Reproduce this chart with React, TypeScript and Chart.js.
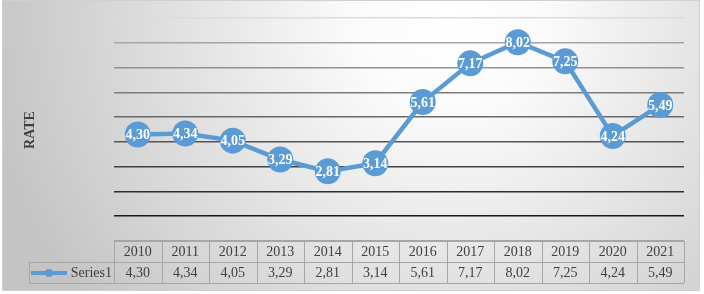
import React, { useEffect, useRef } from 'react';
import { Chart, registerables } from 'chart.js';

Chart.register(...registerables);

const categories = ['2010', '2011', '2012', '2013', '2014', '2015', '2016', '2017', '2018', '2019', '2020', '2021'];
const seriesName = 'Series1';
const rates = [4.3, 4.34, 4.05, 3.29, 2.81, 3.14, 5.61, 7.17, 8.02, 7.25, 4.24, 5.49];
const yMin = 0;
const yMax = 9;
const yStep = 1;
const axisTitle = 'RATE';

const W = 704;
const H = 294;
const SERIF = '"Liberation Serif", "Times New Roman", serif';
const BLUE = '#5b9bd5';
const TEXT = '#404040';
const BORDER = '#a6a6a6';

const fmt = (v: number) => v.toFixed(2).replace('.', ',');

function gridColor(v: number): string {
  if (v === 0) return BORDER;
  if (v >= 9) return '#dcdcdc';
  // darker towards the bottom
  const t = (8 - v) / 7; // 0 at 8, 1 at 1
  const c = Math.round(165 - t * 140);
  return `rgb(${c},${c},${c})`;
}

const backgroundPlugin = {
  id: 'bgPlugin',
  beforeDraw(chart: any) {
    const ctx = chart.ctx;
    ctx.save();
    ctx.fillStyle = '#ffffff';
    ctx.fillRect(0, 0, W, H);
    const g = ctx.createRadialGradient(450, 15, 0, 450, 15, 470);
    g.addColorStop(0, '#ffffff');
    g.addColorStop(0.2, '#fbfbfb');
    g.addColorStop(1, '#c4c4c4');
    ctx.fillStyle = g;
    ctx.fillRect(2, 0, 698, 291);
    ctx.strokeStyle = '#d0d0d0';
    ctx.lineWidth = 1;
    ctx.strokeRect(2.5, 0.5, 697, 290);
    ctx.restore();
  },
};

const labelPlugin = {
  id: 'labelPlugin',
  afterDatasetsDraw(chart: any) {
    const ctx = chart.ctx;
    const meta = chart.getDatasetMeta(0);
    ctx.save();
    ctx.font = `bold 14px ${SERIF}`;
    ctx.fillStyle = '#ffffff';
    ctx.textAlign = 'center';
    ctx.textBaseline = 'middle';
    meta.data.forEach((pt: any, i: number) => {
      ctx.fillText(fmt(rates[i]), pt.x, pt.y + 1);
    });
    ctx.restore();
  },
};

const tablePlugin = {
  id: 'tablePlugin',
  afterDraw(chart: any) {
    const ctx = chart.ctx;
    const xs = chart.scales.x;
    const area = chart.chartArea;
    const n = categories.length;
    const colW = (area.right - area.left) / n;
    const top = area.bottom;
    const rowH = 21;
    const legendLeft = 29;
    ctx.save();
    ctx.strokeStyle = BORDER;
    ctx.lineWidth = 1;
    ctx.beginPath();
    // horizontal lines
    ctx.moveTo(area.left, top + 0.5);
    ctx.lineTo(area.right, top + 0.5);
    ctx.moveTo(legendLeft, top + rowH + 0.5);
    ctx.lineTo(area.right, top + rowH + 0.5);
    ctx.moveTo(legendLeft, top + 2 * rowH + 0.5);
    ctx.lineTo(area.right, top + 2 * rowH + 0.5);
    // vertical lines
    for (let i = 0; i <= n; i++) {
      const cx = Math.round(xs.getPixelForValue(Math.min(i, n - 1)) + (i === n ? colW / 2 : -colW / 2)) + 0.5;
      ctx.moveTo(cx, top);
      ctx.lineTo(cx, top + 2 * rowH);
    }
    ctx.moveTo(legendLeft + 0.5, top + rowH);
    ctx.lineTo(legendLeft + 0.5, top + 2 * rowH);
    ctx.stroke();

    ctx.font = `14px ${SERIF}`;
    ctx.fillStyle = TEXT;
    ctx.textAlign = 'center';
    ctx.textBaseline = 'middle';
    for (let i = 0; i < n; i++) {
      const cx = xs.getPixelForValue(i);
      ctx.fillText(categories[i], cx, top + rowH / 2 + 1);
      ctx.fillText(fmt(rates[i]), cx, top + rowH * 1.5 + 1);
    }
    // legend key
    const ly = top + rowH * 1.5 + 0.5;
    ctx.strokeStyle = BLUE;
    ctx.lineWidth = 4;
    ctx.beginPath();
    ctx.moveTo(31, ly);
    ctx.lineTo(67, ly);
    ctx.stroke();
    ctx.fillStyle = BLUE;
    ctx.beginPath();
    ctx.arc(49, ly, 4, 0, Math.PI * 2);
    ctx.fill();
    ctx.fillStyle = TEXT;
    ctx.textAlign = 'right';
    ctx.fillText(seriesName, area.left - 2, top + rowH * 1.5 + 1);

    // axis title
    ctx.translate(30, 130);
    ctx.rotate(-Math.PI / 2);
    ctx.font = `bold 14px ${SERIF}`;
    ctx.textAlign = 'center';
    ctx.fillText(axisTitle, 0, 0);
    ctx.restore();
  },
};

export default function App() {
  const ref = useRef<HTMLCanvasElement>(null);
  useEffect(() => {
    document.body.style.margin = '0';
    const canvas = ref.current!;
    const chart = new Chart(canvas, {
      type: 'line',
      data: {
        labels: categories,
        datasets: [
          {
            label: seriesName,
            data: rates,
            borderColor: BLUE,
            backgroundColor: BLUE,
            borderWidth: 4.5,
            pointRadius: 13,
            pointHoverRadius: 13,
            pointBackgroundColor: BLUE,
            pointBorderWidth: 0,
            tension: 0,
            clip: false as any,
          },
        ],
      },
      options: {
        responsive: false,
        animation: false,
        events: [],
        layout: { padding: { left: 114, right: 20, top: 18, bottom: 53 } },
        plugins: {
          legend: { display: false },
          tooltip: { enabled: false },
          title: { display: false },
        },
        scales: {
          x: {
            type: 'category',
            display: false,
            offset: true,
          },
          y: {
            min: yMin,
            max: yMax,
            ticks: { display: false, stepSize: yStep },
            border: { display: false },
            grid: {
              drawTicks: false,
              lineWidth: 1.5,
              color: (c: any) => gridColor(c.tick ? c.tick.value : 0),
            },
          },
        },
      },
      plugins: [backgroundPlugin, labelPlugin, tablePlugin],
    });
    return () => chart.destroy();
  }, []);
  return (
    <div style={{ position: 'fixed', left: 0, top: 0 }}>
      <canvas ref={ref} width={W} height={H} style={{ width: W, height: H, display: 'block' }} />
    </div>
  );
}
